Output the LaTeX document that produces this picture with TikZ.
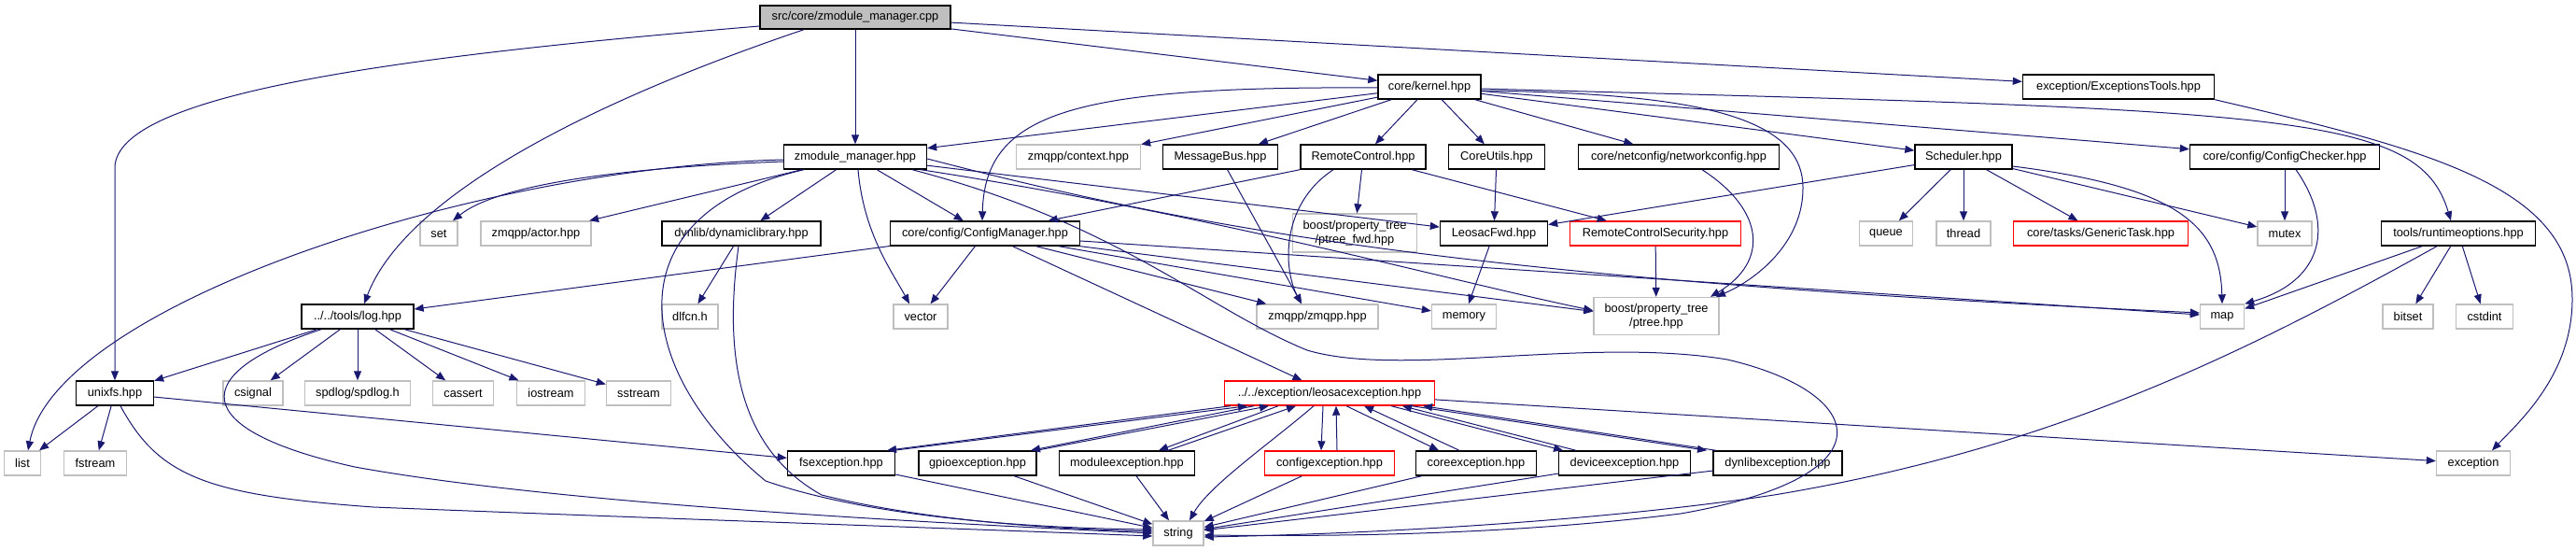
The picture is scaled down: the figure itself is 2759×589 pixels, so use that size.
\documentclass[tikz,border=0pt]{standalone}
\usepackage{fontspec}
\setmainfont{Liberation Sans}
\usetikzlibrary{arrows.meta}
\definecolor{edgeblue}{HTML}{191970}
\definecolor{boxgrey}{HTML}{BFBFBF}
\begin{document}
\begin{tikzpicture}[x=1pt,y=-1pt,
  base/.style={draw, line width=1.4pt, minimum height=26, inner sep=0pt, font=\fontsize{12.8}{15}\selectfont, text=black, fill=white, align=center},
  doc/.style={base, draw=black},
  ext/.style={base, draw=boxgrey},
  trunc/.style={base, draw=red},
  rootbox/.style={base, draw=black, fill=boxgrey},
  e/.style={draw=edgeblue, line width=1pt, -{Triangle[length=10pt,width=8pt]}},
]
\useasboundingbox (0,0) rectangle (2759,589);
% rank 0/1
\node[rootbox, minimum width=204, minimum height=25] (root) at (916,18.5) {src/core/zmodule\_manager.cpp};
\node[doc, minimum width=110] (kernel) at (1531,93) {core/kernel.hpp};
\node[doc, minimum width=205] (extools) at (2269,93) {exception/ExceptionsTools.hpp};
% rank 2
\node[doc, minimum width=153] (zmm) at (916,168) {zmodule\_manager.hpp};
\node[ext, minimum width=133] (context) at (1155,168) {zmqpp/context.hpp};
\node[doc, minimum width=123] (msgbus) at (1307,168) {MessageBus.hpp};
\node[doc, minimum width=134] (remote) at (1460,168) {RemoteControl.hpp};
\node[doc, minimum width=103] (coreutils) at (1603,168) {CoreUtils.hpp};
\node[doc, minimum width=215] (netconf) at (1798,168) {core/netconfig/networkconfig.hpp};
\node[doc, minimum width=104] (sched) at (2103,168) {Scheduler.hpp};
\node[doc, minimum width=203] (checker) at (2447,168) {core/config/ConfigChecker.hpp};
% rank 3
\node[ext, minimum width=40] (set) at (470,250) {set};
\node[ext, minimum width=118] (actor) at (574,250) {zmqpp/actor.hpp};
\node[doc, minimum width=170] (dynlib) at (794,250) {dynlib/dynamiclibrary.hpp};
\node[doc, minimum width=203] (cfgmgr) at (1055,250) {core/config/ConfigManager.hpp};
\node[ext, minimum width=133, minimum height=41] (ptreefwd) at (1451,249.5) {boost/property\_tree\\/ptree\_fwd.hpp};
\node[doc, minimum width=115] (leosacfwd) at (1600,250) {LeosacFwd.hpp};
\node[trunc, minimum width=183] (rcsec) at (1773,250) {RemoteControlSecurity.hpp};
\node[ext, minimum width=57] (queue) at (2020,250) {queue};
\node[ext, minimum width=58] (thread) at (2103,250) {thread};
\node[trunc, minimum width=187] (generic) at (2250,250) {core/tasks/GenericTask.hpp};
\node[ext, minimum width=58] (mutex) at (2447,250) {mutex};
\node[doc, minimum width=165] (runtime) at (2633,250) {tools/runtimeoptions.hpp};
% rank 4
\node[doc, minimum width=120] (log) at (383,339) {../../tools/log.hpp};
\node[ext, minimum width=60] (dlfcn) at (739,339) {dlfcn.h};
\node[ext, minimum width=58] (vector) at (986,339) {vector};
\node[ext, minimum width=130] (zmqpp) at (1411,339) {zmqpp/zmqpp.hpp};
\node[ext, minimum width=69] (memory) at (1568,339) {memory};
\node[ext, minimum width=134, minimum height=40] (ptree) at (1774,338.5) {boost/property\_tree\\/ptree.hpp};
\node[ext, minimum width=47] (map) at (2380,339) {map};
\node[ext, minimum width=54] (bitset) at (2579,339) {bitset};
\node[ext, minimum width=61] (cstdint) at (2661,339) {cstdint};
% rank 5
\node[doc, minimum width=83] (unixfs) at (123,421) {unixfs.hpp};
\node[ext, minimum width=64] (csignal) at (271,421) {csignal};
\node[ext, minimum width=113] (spdlog) at (383,421) {spdlog/spdlog.h};
\node[ext, minimum width=65] (cassert) at (496,421) {cassert};
\node[ext, minimum width=73] (iostream) at (590,421) {iostream};
\node[ext, minimum width=69] (sstream) at (684,421) {sstream};
\node[trunc, minimum width=225] (leo) at (1424,421) {../../exception/leosacexception.hpp};
% rank 6
\node[ext, minimum width=39] (list) at (24,496) {list};
\node[ext, minimum width=67] (fstream) at (102,496) {fstream};
\node[doc, minimum width=115] (fsexc) at (901,496) {fsexception.hpp};
\node[doc, minimum width=126] (gpio) at (1047,496) {gpioexception.hpp};
\node[doc, minimum width=145] (module) at (1207,496) {moduleexception.hpp};
\node[trunc, minimum width=139] (config) at (1424,496) {configexception.hpp};
\node[doc, minimum width=129] (core) at (1581,496) {coreexception.hpp};
\node[doc, minimum width=141] (device) at (1740,496) {deviceexception.hpp};
\node[doc, minimum width=138] (dynlibexc) at (1904,496) {dynlibexception.hpp};
\node[ext, minimum width=79] (exception) at (2649,496) {exception};
% rank 7
\node[ext, minimum width=54] (string) at (1262,571) {string};

% ---- edges: root
\draw[e] ([yshift=-9.5]root.west) .. controls (430,60) and (123,100) .. (123,180) -- (unixfs.north);
\draw[e] ([xshift=-55]root.south) .. controls (600,120) and (430,220) .. ([xshift=7]log.north);
\draw[e] (root) -- (zmm);
\draw[e] (root) -- (kernel);
\draw[e] (root) -- (extools);
% kernel
\draw[e] (kernel) -- (zmm);
\draw[e] ([yshift=-1]kernel.west) .. controls (1150,92) and (1055,120) .. ([xshift=-3]cfgmgr.north);
\draw[e] (kernel) -- (context);
\draw[e] (kernel) -- (msgbus);
\draw[e] (kernel) -- (remote);
\draw[e] (kernel) -- (coreutils);
\draw[e] (kernel) -- (netconf);
\draw[e] (kernel) -- (sched);
\draw[e] (kernel) -- (checker);
\draw[e] ([yshift=-2]kernel.east) .. controls (2450,118) and (2590,120) .. ([xshift=-8]runtime.north);
\draw[e] ([yshift=-4]kernel.east) .. controls (1800,100) and (1930,120) .. (1931,200) .. controls (1932,260) and (1880,300) .. ([xshift=64]ptree.north);
% zmodule_manager.hpp
\draw[e] ([yshift=-3]zmm.west) .. controls (500,180) and (60,330) .. ([xshift=6]list.north);
\draw[e] ([yshift=-5]zmm.west) .. controls (650,180) and (530,200) .. ([xshift=15]set.north);
\draw[e] (zmm) -- (actor);
\draw[e] (zmm) -- (dynlib);
\draw[e] ([xshift=-55]zmm.south) .. controls (650,230) and (680,400) .. (820,515) .. controls (950,560) and (1150,566) .. ([yshift=4]string.west);
\draw[e] ([xshift=3]zmm.south) .. controls (925,250) and (955,290) .. ([xshift=-12]vector.north);
\draw[e] (zmm) -- (cfgmgr);
\draw[e] (zmm) -- (leosacfwd);
\draw[e] ([xshift=70]zmm.south) .. controls (1300,230) and (1550,300) .. ([yshift=6]ptree.west);
\draw[e] ([yshift=-2]zmm.east) .. controls (1300,250) and (1600,300) .. ([yshift=4]map.west);
\draw[e] ([xshift=61]zmm.south) .. controls (1200,240) and (1290,330) .. (1400,375) .. controls (1500,405) and (1700,360) .. (1850,385) .. controls (2000,420) and (2030,510) .. (1800,550) .. controls (1600,575) and (1400,574) .. ([yshift=-2]string.east);
% ConfigManager
\draw[e] (cfgmgr) -- (log);
\draw[e] (cfgmgr) -- (vector);
\draw[e] (cfgmgr) -- (leo);
\draw[e] (cfgmgr) -- (zmqpp);
\draw[e] (cfgmgr) -- (memory);
\draw[e] (cfgmgr.south east) -- ([yshift=5]ptree.west);
\draw[e] ([yshift=-8]cfgmgr.east) -- ([yshift=2]map.west);
% RemoteControl, MessageBus, CoreUtils, netconfig...
\draw[e] (remote) -- (cfgmgr);
\draw[e] ([xshift=-32]remote.south) .. controls (1370,220) and (1375,290) .. ([xshift=-17]zmqpp.north);
\draw[e] (remote) -- (ptreefwd);
\draw[e] (remote) -- (rcsec);
\draw[e] (msgbus) -- ([xshift=-17]zmqpp.north);
\draw[e] (coreutils) -- (leosacfwd);
\draw[e] (sched) -- (leosacfwd);
\draw[e] ([xshift=25]netconf.south) .. controls (1890,225) and (1895,280) .. ([xshift=58]ptree.north);
\draw[e] (rcsec) -- (ptree);
\draw[e] (leosacfwd) -- (memory);
% Scheduler
\draw[e] (sched) -- (queue);
\draw[e] (sched) -- (thread);
\draw[e] (sched) -- (generic);
\draw[e] (sched) -- (mutex);
\draw[e] ([yshift=-10]sched.east) .. controls (2330,200) and (2378,240) .. (map.north);
% ConfigChecker
\draw[e] (checker) -- (mutex);
\draw[e] ([xshift=12]checker.south) .. controls (2500,240) and (2490,300) .. (map.north east);
% runtimeoptions
\draw[e] (runtime) -- (map);
\draw[e] (runtime) -- (bitset);
\draw[e] (runtime) -- (cstdint);
\draw[e] ([xshift=-23]runtime.south) .. controls (2400,380) and (2200,480) .. (1900,530) .. controls (1700,560) and (1450,572) .. ([yshift=-4]string.east);
% ExceptionsTools
\draw[e] (extools.south east) .. controls (2600,160) and (2755,200) .. (2755,320) .. controls (2755,400) and (2700,450) .. ([xshift=20]exception.north);
% leosacexception
\draw[e] (leo) -- (exception);
\draw[e] ([xshift=-17]leo.south) .. controls (1360,475) and (1295,520) .. ([xshift=12]string.north);
\draw[e] ([xshift=-106]leo.south) -- ([xshift=49]fsexc.north);
\draw[e] ([xshift=56]fsexc.north) -- ([xshift=-88]leo.south);
\draw[e] ([xshift=-81]leo.south) -- ([xshift=57]gpio.north);
\draw[e] ([xshift=63]gpio.north) -- ([xshift=-65]leo.south);
\draw[e] ([xshift=-55]leo.south) -- ([xshift=34]module.north);
\draw[e] ([xshift=44]module.north) -- ([xshift=-36]leo.south);
\draw[e] ([xshift=-7]leo.south) -- ([xshift=-9]config.north);
\draw[e] ([xshift=8]config.north) -- ([xshift=7]leo.south);
\draw[e] ([xshift=18]leo.south) -- ([xshift=-40]core.north);
\draw[e] ([xshift=-18]core.north) -- ([xshift=37]leo.south);
\draw[e] ([xshift=66]leo.south) -- ([xshift=-66]device.north);
\draw[e] ([xshift=-52]device.north) -- ([xshift=78]leo.south);
\draw[e] ([xshift=88]leo.south) -- ([xshift=-76]dynlibexc.north);
\draw[e] ([xshift=-66]dynlibexc.north) -- ([xshift=100]leo.south);
% exceptions -> string
\draw[e] (fsexc) -- (string);
\draw[e] (gpio) -- (string);
\draw[e] (module) -- (string);
\draw[e] (config) -- (string);
\draw[e] (core) -- (string);
\draw[e] (device) -- (string);
\draw[e] (dynlibexc) -- (string);
% log.hpp
\draw[e] (log) -- (unixfs);
\draw[e] (log) -- (csignal);
\draw[e] (log) -- (spdlog);
\draw[e] (log) -- (cassert);
\draw[e] (log) -- (iostream);
\draw[e] (log) -- (sstream);
\draw[e] ([xshift=-39]log.south) .. controls (200,400) and (200,460) .. (380,500) .. controls (600,540) and (1000,560) .. ([yshift=0]string.west);
% unixfs.hpp
\draw[e] (unixfs) -- (list);
\draw[e] (unixfs) -- (fstream);
\draw[e] (unixfs) -- (fsexc);
\draw[e] ([xshift=6]unixfs.south) .. controls (170,510) and (220,530) .. (400,543) .. controls (700,555) and (1000,565) .. ([yshift=-3]string.west);
% dynamiclibrary.hpp
\draw[e] (dynlib) -- (dlfcn);
\draw[e] ([xshift=-3]dynlib.south) .. controls (775,380) and (790,480) .. (880,530) .. controls (1000,560) and (1150,567) .. ([yshift=2]string.west);
\end{tikzpicture}
\end{document}
